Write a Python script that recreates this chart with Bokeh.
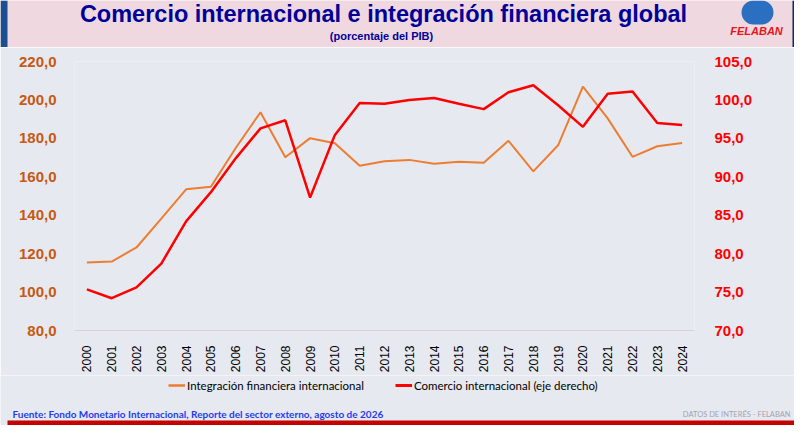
from math import pi

from bokeh.embed import file_html
from bokeh.layouts import column
from bokeh.models import (
    BoxAnnotation,
    CustomJSTickFormatter,
    FixedTicker,
    Label,
    Legend,
    LegendItem,
    LinearAxis,
    Range1d,
)
from bokeh.plotting import figure
from bokeh.resources import INLINE

# Data (porcentaje del PIB)
years = list(range(2000, 2025))
integracion = [
    115.4, 115.9, 123.2, 138.2, 153.5, 154.8, 175.0, 193.6, 170.2, 180.1,
    177.5, 165.7, 168.1, 168.8, 166.8, 167.8, 167.3, 178.7, 162.8, 176.4,
    206.9, 190.4, 170.4, 175.9, 177.6,
]
comercio = [
    75.35, 74.2, 75.6, 78.7, 84.2, 88.0, 92.4, 96.3, 97.35, 87.3,
    95.45, 99.6, 99.5, 100.0, 100.25, 99.5, 98.8, 101.0, 101.9, 99.3,
    96.5, 100.8, 101.1, 97.0, 96.75,
]
left_ticks = [80, 100, 120, 140, 160, 180, 200, 220]
right_ticks = [70, 75, 80, 85, 90, 95, 100, 105]

label_integracion = "Integración financiera internacional"
label_comercio = "Comercio internacional (eje derecho)"
titulo = "Comercio internacional e integración financiera global"
subtitulo = "(porcentaje del PIB)"
fuente = "Fuente: Fondo Monetario Internacional, Reporte del sector externo, agosto de 2026"

ORANGE = "#ED7D31"
RED = "#FF0000"
NAVY = "#000099"
BG = "#E6E9F0"
PINK = "#EFD8DF"
W = 794


def blank_fig(height, color):
    f = figure(width=W, height=height, output_backend="svg", toolbar_location=None,
               x_range=Range1d(0, W), y_range=Range1d(height, 0),
               x_axis_location=None, y_axis_location=None, min_border=0,
               frame_align=False)
    f.background_fill_color = color
    f.border_fill_color = color
    f.outline_line_color = None
    f.xgrid.visible = False
    f.ygrid.visible = False
    return f


def box(left, right, top, bottom, color, **kw):
    return BoxAnnotation(left=left, right=right, top=top, bottom=bottom,
                         fill_color=color, fill_alpha=1, line_color=None, **kw)


def label(x, y, text, font, size, color, style="normal", align="center"):
    return Label(x=x, y=y, text=text, text_font=font, text_font_size=size,
                 text_font_style=style, text_color=color, text_align=align,
                 text_baseline="middle")


# header
head = blank_fig(47, PINK)
head.add_layout(box(0, 7, 0, 47, "#1B4F8F"))
head.add_layout(box(792, W, 0, 47, "#0D2A5C"))
head.add_layout(box(741, 773, 0, 24, "#2A6FC0", border_radius=14))
head.add_layout(label(756, 30, "FELABAN", "Liberation Sans", "11px", "#E8141C",
                      style="bold italic"))
head.add_layout(label(383, 13, titulo, "Liberation Sans", "23.5px", NAVY, style="bold"))
head.add_layout(label(381, 35, subtitulo, "Liberation Sans", "11px", NAVY, style="bold"))

# main chart
p = figure(
    width=W,
    height=328,
    output_backend="svg",
    toolbar_location=None,
    x_range=Range1d(1999.5, 2024.5),
    y_range=Range1d(left_ticks[0], left_ticks[-1]),
    min_border_left=74,
    min_border_right=100,
    min_border_top=14,
    min_border_bottom=44,
    frame_align=False,
)
p.background_fill_color = BG
p.border_fill_color = BG
p.outline_line_color = None
p.xgrid.visible = False
p.ygrid.visible = False

comma_fmt = CustomJSTickFormatter(code="return tick.toFixed(1).replace('.', ',');")

p.xaxis.ticker = FixedTicker(ticks=years)
p.xaxis.major_label_orientation = pi / 2
p.xaxis.axis_line_color = "#D4D4D8"
p.xaxis.major_tick_line_color = None
p.xaxis.minor_tick_line_color = None
p.xaxis.major_label_standoff = 9
p.xaxis.major_label_text_font_size = "12px"
p.xaxis.major_label_text_color = "black"
p.xaxis.major_label_text_font = "Liberation Sans"

p.yaxis.ticker = FixedTicker(ticks=left_ticks)
p.yaxis.formatter = comma_fmt
p.yaxis.axis_line_color = None
p.yaxis.major_tick_line_color = None
p.yaxis.minor_tick_line_color = None
p.yaxis.major_label_standoff = 12
p.yaxis.major_label_text_font_size = "15px"
p.yaxis.major_label_text_font_style = "bold"
p.yaxis.major_label_text_color = "#C55A11"
p.yaxis.major_label_text_font = "Liberation Sans"

p.extra_y_ranges = {"right": Range1d(right_ticks[0], right_ticks[-1])}
ax_r = LinearAxis(
    y_range_name="right",
    ticker=FixedTicker(ticks=right_ticks),
    formatter=comma_fmt,
    axis_line_color=None,
    major_tick_line_color=None,
    minor_tick_line_color=None,
    major_label_standoff=14,
    major_label_text_font_size="15px",
    major_label_text_font_style="bold",
    major_label_text_color=RED,
    major_label_text_font="Liberation Sans",
)
p.add_layout(ax_r, "right")

p.line(years, integracion, line_color=ORANGE, line_width=2)
p.line(years, comercio, line_color=RED, line_width=2.5, y_range_name="right")

# footer with legend and source; the legend keys reuse the series, which fall
# outside this strip's ranges, so only their legend samples show
foot = blank_fig(50, BG)
k1 = foot.line(years, integracion, line_color=ORANGE, line_width=2.5)
k2 = foot.line(years, comercio, line_color=RED, line_width=3)
legend = Legend(
    items=[
        LegendItem(label=label_integracion, renderers=[k1]),
        LegendItem(label=label_comercio, renderers=[k2]),
    ],
    orientation="horizontal",
    location=(168, 32),
    background_fill_alpha=0,
    border_line_color=None,
    glyph_width=17,
    glyph_height=12,
    label_height=16,
    label_standoff=2,
    spacing=31,
    padding=1,
    margin=0,
    label_text_font="Lato",
    label_text_font_size="11.5px",
    label_text_color="black",
)
foot.add_layout(legend)
foot.add_layout(label(12, 38, fuente, "Lato", "10px", "#1F3BEF", style="bold", align="left"))
foot.add_layout(label(790, 39, "DATOS DE INTERÉS - FELABAN", "Lato", "7.5px",
                      "#A3A3AD", align="right"))
foot.add_layout(box(7, W, 45, 50, "#C40000"))

layout = column(head, p, foot, spacing=0)
open("out.html", "w").write(file_html(layout, INLINE))
